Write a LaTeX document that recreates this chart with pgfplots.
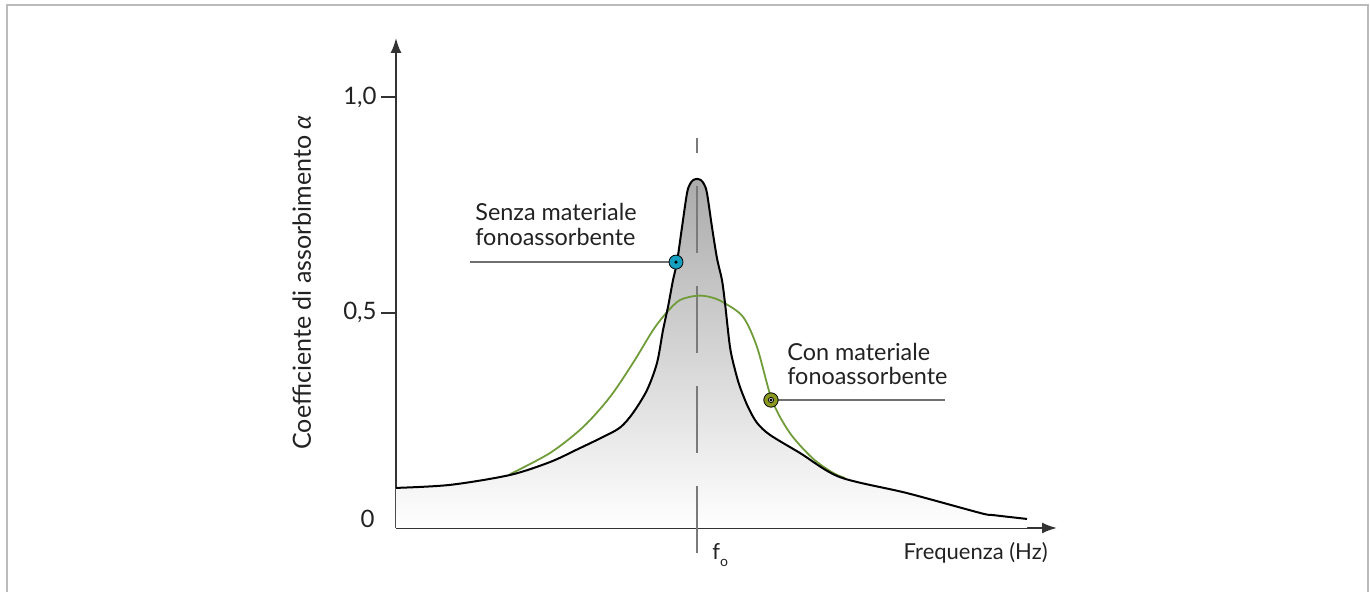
\documentclass[border=0pt]{standalone}
\usepackage{fontspec}
\setmainfont{Lato}
\usepackage{pgfplots}
\usepackage{pgfplotstable}
\pgfplotsset{compat=1.18}
\usetikzlibrary{arrows.meta}
\definecolor{axcol}{HTML}{333333}
\definecolor{curvegreen}{RGB}{112,156,58}
\definecolor{markblue}{RGB}{22,160,192}
\definecolor{markolive}{RGB}{138,152,32}
\definecolor{leadergray}{HTML}{707070}
\definecolor{dashgray}{HTML}{7A7A7A}
\definecolor{framegray}{HTML}{BBBBBB}
\definecolor{textcol}{HTML}{222222}

\pgfplotstableread{
x y
0 0.093
54 0.100
114 0.123
154 0.153
180 0.181
205 0.209
224 0.233
237 0.267
251 0.320
261 0.383
267 0.459
272 0.513
277 0.575
281 0.617
286 0.698
291 0.777
294 0.798
297 0.807
301 0.810
305 0.807
308 0.798
311 0.777
316 0.698
321 0.626
326 0.575
329 0.522
334 0.420
339 0.367
344 0.327
352 0.281
361 0.244
374 0.216
404 0.174
444 0.118
511 0.081
584 0.035
597 0.030
631 0.021
}\senza

\pgfplotstableread{
x y
114 0.125
154 0.174
187 0.234
214 0.304
237 0.383
257 0.459
271 0.501
284 0.529
301 0.539
314 0.536
327 0.524
347 0.490
361 0.420
376 0.297
394 0.220
417 0.161
437 0.128
449 0.116
}\con

\begin{document}
\begin{tikzpicture}[font=\fontsize{11pt}{13pt}\selectfont, text=textcol]
\useasboundingbox (-198pt,-32pt) rectangle (487pt,264pt);
\draw[framegray, line width=1pt] (-194.5pt,-50pt) -- (-194.5pt,261.5pt) -- (485.9pt,261.5pt) -- (485.9pt,-50pt);
\begin{axis}[
  at={(0,0)}, anchor=origin,
  scale only axis, width=330.5pt, height=245pt,
  xmin=0, xmax=661, ymin=0, ymax=1.137,
  axis lines=left,
  axis line style={axcol, line width=1pt, -{Latex[length=7.5pt,width=5.5pt]}},
  xtick=\empty,
  ytick={0.5,1}, yticklabels={{0,5},{1,0}},
  tick align=outside, major tick length=7.5pt,
  tick style={axcol, line width=1pt},
  yticklabel style={anchor=east, inner sep=0pt, xshift=-2pt, text=textcol, font=\fontsize{12pt}{14pt}\selectfont},
  /pgf/number format/assume math mode=true,
  clip=false,
]
\addplot[draw=none, smooth, top color=gray!66, bottom color=white] table {\senza} \closedcycle;
\addplot[dashgray, line width=0.8pt, dash pattern=on 33.5pt off 16.5pt] coordinates {(301,-0.058) (301,0.905)};
\addplot[curvegreen, line width=0.9pt, smooth] table {\con};
\addplot[black, line width=1pt, smooth] table {\senza};
% leader lines
\addplot[leadergray, line width=0.75pt] coordinates {(74,0.617) (280,0.617)};
\addplot[leadergray, line width=0.75pt] coordinates {(375,0.297) (549,0.297)};
% markers
\addplot[only marks, mark=*, mark size=3.5pt, mark options={draw=none, fill=markblue}] coordinates {(280,0.617)};
\addplot[only marks, mark=*, mark size=0.6pt, mark options={draw=none, fill=black}] coordinates {(280,0.617)};
\addplot[only marks, mark=*, mark size=3.6pt, mark options={draw=none, fill=markolive}] coordinates {(375,0.297)};
\addplot[only marks, mark=*, mark size=1.3pt, mark options={draw=none, fill=white}] coordinates {(375,0.297)};
\addplot[only marks, mark=*, mark size=0.5pt, mark options={draw=none, fill=gray}] coordinates {(375,0.297)};
% texts
\begin{scope}[font=\fontsize{11.7pt}{14pt}\selectfont]
\node[anchor=base west, inner sep=0pt] at (axis cs:79,0.7146) {Senza materiale};
\node[anchor=base west, inner sep=0pt] at (axis cs:79,0.6566) {fonoassorbente};
\node[anchor=base west, inner sep=0pt] at (axis cs:391,0.3898) {Con materiale};
\node[anchor=base west, inner sep=0pt] at (axis cs:391,0.3318) {fonoassorbente};
\end{scope}
\node[anchor=base east, inner sep=0pt] at (axis cs:652,-0.072) {Frequenza (Hz)};
\node[anchor=base west, inner sep=0pt] at (axis cs:316,-0.0742) {f\raisebox{-3.5pt}{\fontsize{7pt}{8pt}\selectfont o}};
\node[anchor=east, inner sep=0pt, font=\fontsize{12pt}{14pt}\selectfont] at ([xshift=-10.5pt]axis cs:0,0.022) {0};
\node[rotate=90, anchor=base, inner sep=0pt, font=\fontsize{12.5pt}{15pt}\selectfont] at ([xshift=-42.5pt]axis cs:0,0.5696) {Coefficiente di assorbimento \textit{α}};
\end{axis}
\end{tikzpicture}
\end{document}
